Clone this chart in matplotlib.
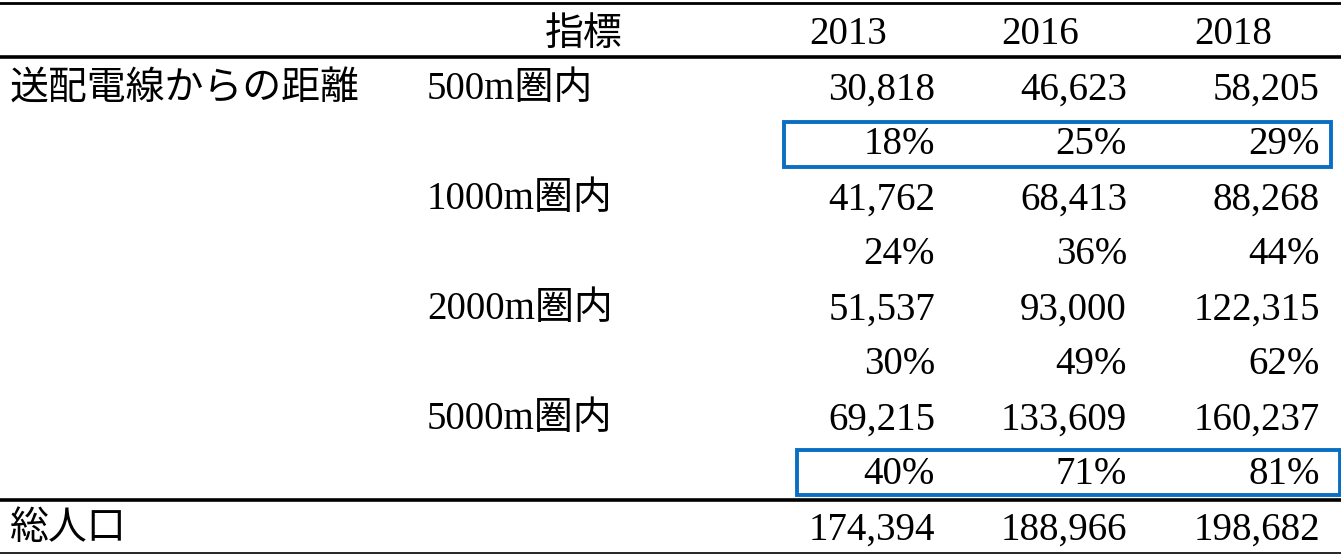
import matplotlib
matplotlib.use("Agg")
import matplotlib.pyplot as plt
from matplotlib.patches import Rectangle

years = ["2013", "2016", "2018"]
header_label = "指標"
group_label = "送配電線からの距離"
indicators = ["500m圏内", "1000m圏内", "2000m圏内", "5000m圏内"]
counts = [
    [30818, 46623, 58205],
    [41762, 68413, 88268],
    [51537, 93000, 122315],
    [69215, 133609, 160237],
]
shares = [
    [18, 25, 29],
    [24, 36, 44],
    [30, 49, 62],
    [40, 71, 81],
]
total_label = "総人口"
totals = [174394, 188966, 198682]
highlight_rows = [0, 3]

W, H = 1341, 556
fig = plt.figure(figsize=(W / 100, H / 100), dpi=100)
ax = fig.add_axes([0, 0, 1, 1])
ax.set_xlim(0, W)
ax.set_ylim(H, 0)
ax.axis("off")

fam = ["Liberation Serif", "Noto Sans CJK JP"]
fs = 28
col_right = [935, 1127, 1320]
header_center = [848, 1040, 1233]
blue = "#0A6FC2"
dy = 2

def txt(x, y, s, ha="left"):
    ax.text(x, y + dy, s, ha=ha, va="center", fontsize=fs, family=fam, color="black")

# horizontal rules
ax.plot([0, W], [3, 3], color="black", lw=2.0)
ax.plot([0, W], [57, 57], color="black", lw=2.6)
ax.plot([0, W], [500, 500], color="black", lw=2.6)
ax.plot([0, W], [553, 553], color="black", lw=1.2)

# header
hy = 33
txt(623, hy, header_label, ha="right")
for x, y in zip(header_center, years):
    txt(x, hy, y, ha="center")

# body
row_h = 55
y0 = 88
txt(10, y0, group_label)
for i, name in enumerate(indicators):
    yc = y0 + 2 * i * row_h
    yp = yc + row_h
    txt(427, yc, name)
    for j in range(3):
        txt(col_right[j], yc, f"{counts[i][j]:,}", ha="right")
        txt(col_right[j], yp, f"{shares[i][j]}%", ha="right")

# highlight boxes
boxes = {0: (784, 122, 1331, 167), 3: (797, 450, 1340, 495)}
for i in highlight_rows:
    x1, y1, x2, y2 = boxes[i]
    ax.add_patch(Rectangle((x1, y1), x2 - x1, y2 - y1, fill=False,
                           edgecolor=blue, lw=2.8))

# total
ty = 528
txt(10, ty, total_label)
for j in range(3):
    txt(col_right[j], ty, f"{totals[j]:,}", ha="right")

fig.savefig("out.png", dpi=100)
